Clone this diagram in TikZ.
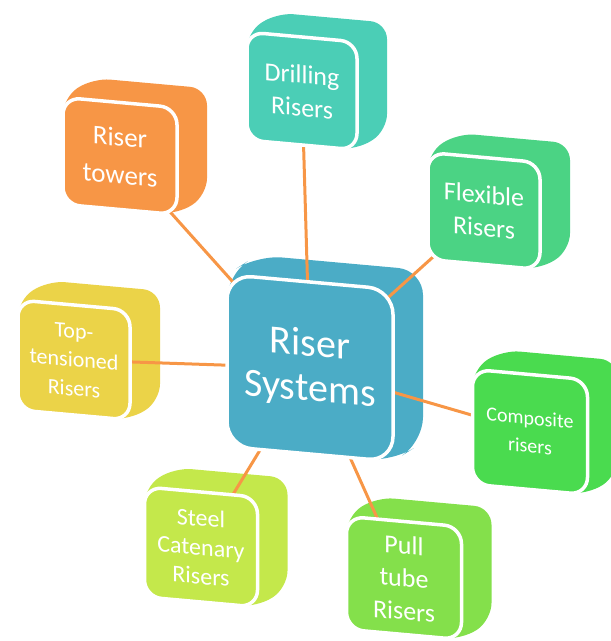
\documentclass[tikz,border=0pt]{standalone}
\usepackage{fontspec}
\setmainfont{Carlito}
\pgfdeclarelayer{back}
\pgfdeclarelayer{mid}
\pgfsetlayers{back,mid,main}

\definecolor{sysblue}{HTML}{4BACC6}
\definecolor{toworange}{HTML}{F79646}
\definecolor{driteal}{HTML}{4BCEB6}
\definecolor{flegreen}{HTML}{4BD384}
\definecolor{comgreen}{HTML}{4ADB4F}
\definecolor{pullime}{HTML}{84E04B}
\definecolor{stelime}{HTML}{C4E84B}
\definecolor{topyellow}{HTML}{EBD348}
\definecolor{linkorange}{HTML}{F79646}

\tikzset{
  face/.style={draw=white, line width=3.5pt},
  link/.style={draw=linkorange, line width=3pt},
  boxtext/.style={text=white, align=center, transform shape},
}

% name, x, y (pixels from top left), width, height, colour, font, text
\newcommand{\riserbox}[8]{%
  \begin{scope}[shift={(#2,-#3)}, yslant=-0.09]
    \begin{pgfonlayer}{back}
      \fill[#6, rounded corners=#4*0.15pt]
        (-#4/2,#5/2) -- (-#4/2+30,#5/2+22) -- (#4/2+30,#5/2+22)
        -- (#4/2+30,-#5/2+22) -- (#4/2,-#5/2) -- (-#4/2,-#5/2) -- cycle;
    \end{pgfonlayer}
    \draw[face, fill=#6, rounded corners=#4*0.15pt] (-#4/2,-#5/2) rectangle (#4/2,#5/2);
    \node[boxtext, font=#7] (#1) at (0,0) {#8};
  \end{scope}}

\begin{document}
\begin{tikzpicture}[x=1pt, y=1pt]
  \useasboundingbox (0,0) rectangle (611,-641);
  \riserbox{sys}{310}{368}{166}{172}{sysblue}{\fontsize{40}{45}\selectfont}{Riser\\Systems}
  \riserbox{tow}{120}{156}{114}{107}{toworange}{\fontsize{27}{38}\selectfont}{Riser\\towers}
  \riserbox{dri}{302}{91}{110}{108}{driteal}{\fontsize{26}{33}\selectfont}{Drilling\\Risers}
  \riserbox{fle}{484}{211}{112}{107}{flegreen}{\fontsize{26}{33}\selectfont}{Flexible\\Risers}
  \riserbox{top}{74}{360}{112}{110}{topyellow}{\fontsize{22}{29}\selectfont}{Top-\\tensioned\\Risers}
  \riserbox{com}{530}{432}{115}{115}{comgreen}{\fontsize{20}{28}\selectfont}{Composite\\risers}
  \riserbox{ste}{201}{547}{113}{110}{stelime}{\fontsize{24}{29}\selectfont}{Steel\\Catenary\\Risers}
  \riserbox{pul}{404}{578}{115}{113}{pullime}{\fontsize{26}{33}\selectfont}{Pull\\tube\\Risers}
  \begin{pgfonlayer}{mid}
    \foreach \n in {tow,dri,fle,top,com,ste,pul}
      \draw[link] (sys.center) -- (\n.center);
  \end{pgfonlayer}
\end{tikzpicture}
\end{document}
